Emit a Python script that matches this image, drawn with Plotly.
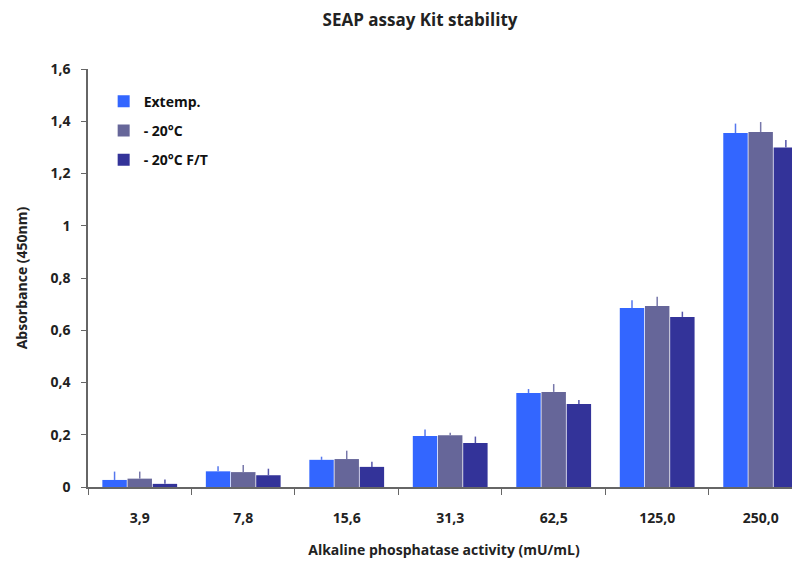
import plotly.graph_objects as go

categories = ["3,9", "7,8", "15,6", "31,3", "62,5", "125,0", "250,0"]
extemp = [0.027, 0.060, 0.104, 0.195, 0.360, 0.685, 1.355]
minus20 = [0.032, 0.057, 0.107, 0.198, 0.364, 0.693, 1.359]
minus20_ft = [0.012, 0.045, 0.077, 0.168, 0.318, 0.651, 1.300]
err_extemp = [0.032, 0.019, 0.012, 0.025, 0.015, 0.030, 0.036]
err_minus20 = [0.027, 0.027, 0.032, 0.010, 0.030, 0.035, 0.038]
err_minus20_ft = [0.017, 0.025, 0.020, 0.025, 0.015, 0.020, 0.028]

series = [
    ("Extemp.", extemp, err_extemp, "#3366FF", "#5577EE"),
    ("- 20°C", minus20, err_minus20, "#666699", "#7777AA"),
    ("- 20°C F/T", minus20_ft, err_minus20_ft, "#333399", "#5555AA"),
]

FONT = "Open Sans"
fig = go.Figure()
for i, (name, vals, errs, color, ecolor) in enumerate(series):
    fig.add_trace(go.Bar(
        x=categories, y=vals, name=name, legendgroup=f"g{i}",
        marker=dict(color=color, line=dict(width=0)),
        error_y=dict(type="data", array=errs, arrayminus=[0]*len(errs),
                     symmetric=False, color=ecolor, thickness=1.5, width=0),
    ))

fig.update_layout(
    width=800, height=566,
    paper_bgcolor="white", plot_bgcolor="white",
    separators=", ",
    margin=dict(l=80, r=8, t=61, b=87),
    barmode="group", bargap=0.27, bargroupgap=0.03,
    title=dict(text="<b>SEAP assay Kit stability</b>", x=0.515, xanchor="center",
               y=0.979, yanchor="middle", font=dict(family=FONT, size=17, color="#222")),
    font=dict(family=FONT, color="#222"),
    legend=dict(x=0.022, y=0.96, xanchor="left", yanchor="top",
                font=dict(family=FONT, size=14, color="#111", weight="bold"),
                itemwidth=30,
                tracegroupgap=8, bgcolor="rgba(0,0,0,0)"),
    xaxis=dict(
        type="category", range=[-0.5, 6.38],
        showline=True, linecolor="#666", linewidth=1.5,
        ticks="outside", tickson="boundaries", ticklen=6, tickcolor="#666",
        ticklabelstandoff=17,
        tickfont=dict(family=FONT, size=14, color="#222", weight="bold"),
        title=dict(text="<b>Alkaline phosphatase activity (mU/mL)</b>",
                   font=dict(family=FONT, size=14, color="#222"), standoff=20),
        showgrid=False,
    ),
    yaxis=dict(
        range=[0, 1.6], dtick=0.2,
        showline=True, linecolor="#666", linewidth=1.5,
        ticks="outside", ticklen=5, tickcolor="#666",
        ticklabelstandoff=8,
        tickfont=dict(family=FONT, size=14, color="#222", weight="bold"),
        title=dict(text="<b>Absorbance (450nm)</b>",
                   font=dict(family=FONT, size=14, color="#222"), standoff=20),
        showgrid=False, zeroline=False,
    ),
)

fig.write_html("out.html")
